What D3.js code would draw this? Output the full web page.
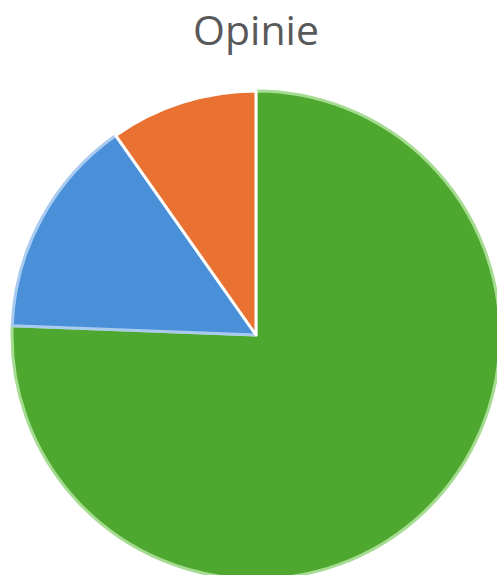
<!DOCTYPE html>
<html><head><meta charset="utf-8">
<script src="https://cdn.jsdelivr.net/npm/d3@7"></script>
<style>html,body{margin:0;padding:0;background:#fff;overflow:hidden}</style>
</head><body>
<svg id="c" width="497" height="575"></svg>
<script>
const categories = ["Pozytywne", "Neutralne", "Negatywne"];
const values = [31, 6, 4];
const fills = ["#4EA72E", "#4A90D9", "#E97132"];
const strokes = ["#A6DC92", "#A9CBF0", "#FFFFFF"];
const title = "Opinie";

const svg = d3.select("#c");
const cx = 256, cy = 335, r = 244;
svg.append("text").attr("x", 256).attr("y", 45).attr("text-anchor", "middle")
  .attr("font-family", "Open Sans").attr("font-size", 41).attr("fill", "#595959").text(title);

const data = categories.map((c, i) => ({c, v: values[i], i}));
const pie = d3.pie().value(d => d.v).sort(null);
const arc = d3.arc().innerRadius(0).outerRadius(r);
const g = svg.append("g").attr("transform", `translate(${cx},${cy})`);
g.selectAll("path").data(pie(data)).join("path")
  .attr("d", arc)
  .attr("fill", d => fills[d.data.i])
  .attr("stroke", d => strokes[d.data.i])
  .attr("stroke-width", 3)
  .attr("stroke-linejoin", "round");
</script>
</body></html>
